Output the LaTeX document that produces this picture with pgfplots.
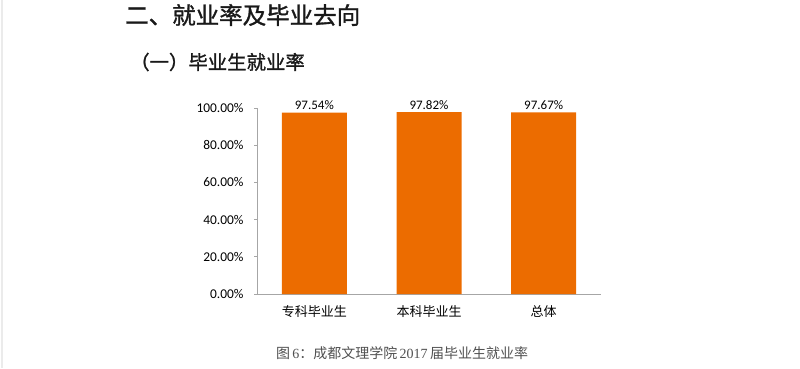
\documentclass[border=0pt]{standalone}
\usepackage{pgfplots}
\pgfplotsset{compat=1.18}
\usepackage{fontspec}
\setmainfont{Carlito}
\newfontfamily\cjk{Noto Sans CJK SC}
\newfontfamily\cjkh[FakeBold=1.3]{Noto Sans CJK SC}
\newfontfamily\capserif{Liberation Serif}
\definecolor{barorange}{RGB}{236,108,0}
\definecolor{axgray}{RGB}{166,166,166}
\definecolor{capgray}{RGB}{80,80,80}
\begin{document}
\begin{tikzpicture}[x=1pt,y=1pt]
\path[use as bounding box] (0,0) rectangle (800,368);
\fill[black!8] (0.5,0) rectangle (2.5,368);
\node[anchor=west,inner sep=0,text=black!90,font={\cjkh\fontsize{23.5}{26}\selectfont}] at (125,353) {二、就业率及毕业去向};
\node[anchor=west,inner sep=0,text=black!90,font={\cjkh\fontsize{19.4}{22}\selectfont}] at (130,306) {（一）毕业生就业率};
\node[inner sep=0,text=capgray,font={\cjk\fontsize{14}{16}\selectfont}] at (402,15) {图\,{\capserif 6}：成都文理学院\,{\capserif 2017}\,届毕业生就业率};
\begin{axis}[
  at={(257pt,74pt)}, anchor=south west,
  scale only axis, width=344pt, height=186pt,
  xmin=-0.5, xmax=2.5, ymin=0, ymax=100,
  axis x line*=bottom, axis y line*=left,
  axis line style={axgray, line width=0.8pt},
  x axis line style={-}, y axis line style={-},
  xtick={0,1,2}, xticklabels={专科毕业生,本科毕业生,总体},
  xtick style={draw=none},
  xticklabel style={font={\cjk\fontsize{13}{15}\selectfont}, yshift=-5pt},
  ytick={0,20,40,60,80,100},
  ytick style={axgray, line width=0.8pt},
  tick align=outside, major tick length=3pt,
  yticklabel={\pgfmathprintnumber[fixed,fixed zerofill,precision=2]{\tick}\%},
  yticklabel style={font=\fontsize{13.4}{15}\selectfont, xshift=-7pt},
  /pgf/number format/assume math mode=true,
  ybar, bar width=65pt,
  nodes near coords={\pgfmathprintnumber[fixed,fixed zerofill,precision=2]{\pgfplotspointmeta}\%},
  every node near coord/.append style={font=\fontsize{13}{15}\selectfont, black, yshift=-1pt},
  clip=false,
]
\addplot[fill=barorange, draw=none] coordinates {(0,97.54) (1,97.82) (2,97.67)};
\end{axis}
\end{tikzpicture}
\end{document}
